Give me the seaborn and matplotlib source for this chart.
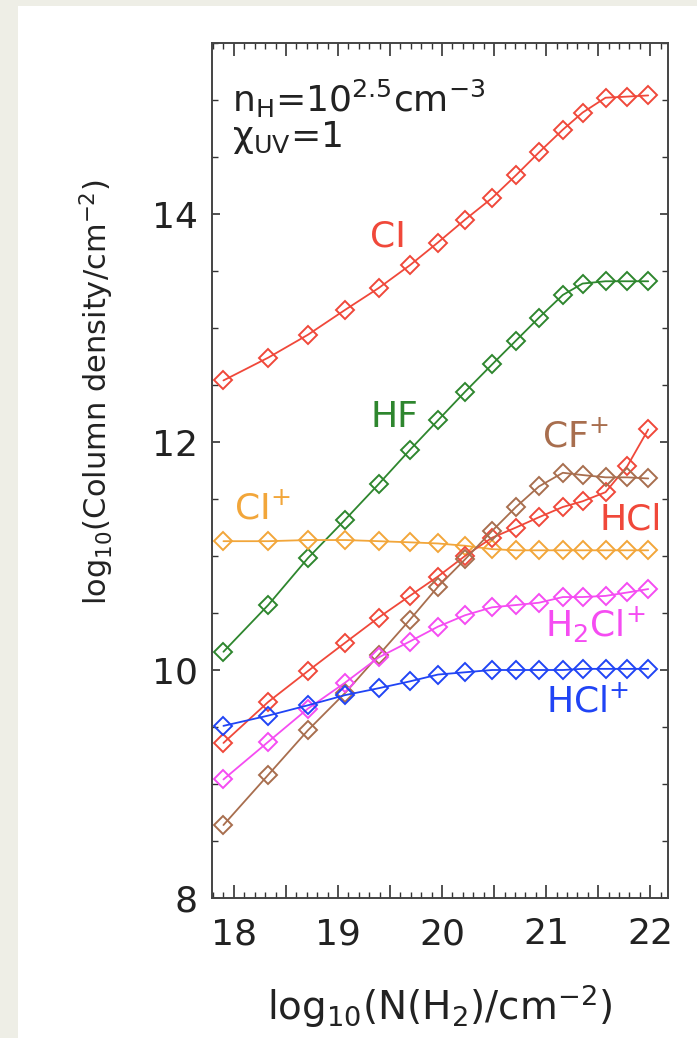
import numpy as np
import pandas as pd
import matplotlib
matplotlib.use("Agg")
import matplotlib.pyplot as plt
import seaborn as sns
from matplotlib.ticker import MultipleLocator, FuncFormatter
from matplotlib.patches import Rectangle

# ---------------- data ----------------
log_NH2 = [17.90, 18.33, 18.71, 19.07, 19.39, 19.69, 19.96, 20.22,
           20.48, 20.71, 20.93, 21.16, 21.35, 21.57, 21.78, 21.98]

CI = [12.54, 12.74, 12.94, 13.16, 13.35, 13.55, 13.75, 13.95,
      14.14, 14.34, 14.54, 14.74, 14.89, 15.02, 15.03, 15.04]
HF = [10.16, 10.57, 10.98, 11.32, 11.63, 11.93, 12.19, 12.44,
      12.68, 12.89, 13.09, 13.29, 13.39, 13.41, 13.41, 13.41]
CIp = [11.13, 11.13, 11.14, 11.14, 11.13, 11.12, 11.11, 11.09,
       11.06, 11.05, 11.05, 11.05, 11.05, 11.05, 11.05, 11.05]
HCl = [9.36, 9.72, 9.99, 10.24, 10.46, 10.65, 10.82, 11.00,
       11.16, 11.25, 11.34, 11.43, 11.48, 11.56, 11.79, 12.11]
CFp = [8.64, 9.08, 9.47, 9.80, 10.13, 10.44, 10.73, 10.97,
       11.22, 11.43, 11.61, 11.73, 11.71, 11.69, 11.69, 11.68]
H2Clp = [9.04, 9.37, 9.66, 9.89, 10.11, 10.25, 10.38, 10.48,
         10.55, 10.57, 10.59, 10.64, 10.64, 10.65, 10.68, 10.71]
HClp = [9.51, 9.60, 9.69, 9.78, 9.84, 9.90, 9.96, 9.98,
        10.00, 10.00, 10.00, 10.00, 10.01, 10.01, 10.01, 10.01]

series_names = ["CI", "HF", "CI+", "HCl", "CF+", "H2Cl+", "HCl+"]
series_vals = [CI, HF, CIp, HCl, CFp, H2Clp, HClp]
series_colors = ["#F0483A", "#2E862E", "#F2A63A", "#F0483A", "#A86E4E", "#F54CF2", "#2044F5"]

label_texts = ["CI", "HF", "CI$^{+}$", "HCl", "CF$^{+}$", "H$_{2}$Cl$^{+}$", "HCl$^{+}$"]
label_x = [19.48, 19.54, 18.27, 21.81, 21.28, 21.47, 21.40]
label_y = [13.80, 12.22, 11.42, 11.32, 12.05, 10.40, 9.72]

# ---------------- style ----------------
sns.set_style("ticks")
plt.rcParams["font.family"] = ["DejaVu Sans"]
plt.rcParams["mathtext.fontset"] = "dejavusans"
plt.rcParams["mathtext.default"] = "regular"

fig = plt.figure(figsize=(6.97, 10.38), dpi=100)
fig.patch.set_facecolor("#EEEEE6")
fig.patches.append(Rectangle((18 / 697, 0), 1, (1038 - 6) / 1038,
                             transform=fig.transFigure, facecolor="white",
                             edgecolor="none", zorder=-10))

ax = fig.add_axes([212 / 697, (1038 - 898) / 1038, (668 - 212) / 697, (898 - 43) / 1038])
ax.set_facecolor("white")

for name, vals, col in zip(series_names, series_vals, series_colors):
    df = pd.DataFrame({"x": log_NH2, "y": vals})
    sns.lineplot(data=df, x="x", y="y", ax=ax, color=col, linewidth=1.3,
                 marker="D", markersize=9, markerfacecolor="none",
                 markeredgecolor=col, markeredgewidth=1.4, legend=False,
                 estimator=None, sort=False)

for t, lx, ly, col in zip(label_texts, label_x, label_y, series_colors):
    ax.text(lx, ly, t, color=col, fontsize=26, ha="center", va="center")

ax.text(0.044, 0.919, r"n$_{H}$=10$^{2.5}$cm$^{-3}$", transform=ax.transAxes,
        fontsize=26, color="#222222", ha="left", va="baseline")
ax.text(0.044, 0.878, r"$\chi_{UV}$=1", transform=ax.transAxes,
        fontsize=26, color="#222222", ha="left", va="baseline")

ax.set_xlim(17.79, 22.17)
ax.set_ylim(8, 15.5)

ax.xaxis.set_major_locator(MultipleLocator(0.5))
ax.xaxis.set_major_formatter(FuncFormatter(lambda v, p: f"{int(round(v))}" if abs(v - round(v)) < 1e-6 else ""))
ax.xaxis.set_minor_locator(MultipleLocator(0.1))
ax.yaxis.set_major_locator(MultipleLocator(2))
ax.yaxis.set_minor_locator(MultipleLocator(0.5))

ax.tick_params(axis="both", which="both", direction="in", top=True, right=True,
               colors="#333333", labelcolor="#222222")
ax.tick_params(axis="x", which="major", length=9.5, width=1.2, labelsize=26, pad=14)
ax.tick_params(axis="x", which="minor", length=4.5, width=1.0)
ax.tick_params(axis="y", which="major", length=6, width=1.2, labelsize=26, pad=10)
ax.tick_params(axis="y", which="minor", length=4, width=1.0)

for sp in ax.spines.values():
    sp.set_color("#444444")
    sp.set_linewidth(1.4)

ax.set_xlabel("")
ax.set_ylabel("")
fig.text(440 / 697, 1 - 1006 / 1038, r"log$_{10}$(N(H$_{2}$)/cm$^{-2}$)",
         fontsize=28, ha="center", va="center", color="#222222")
fig.text(97 / 697, 1 - 392 / 1038, r"log$_{10}$(Column density/cm$^{-2}$)",
         fontsize=22, ha="center", va="center", rotation=90, color="#222222")

fig.savefig("out.png", dpi=100, facecolor=fig.get_facecolor())
